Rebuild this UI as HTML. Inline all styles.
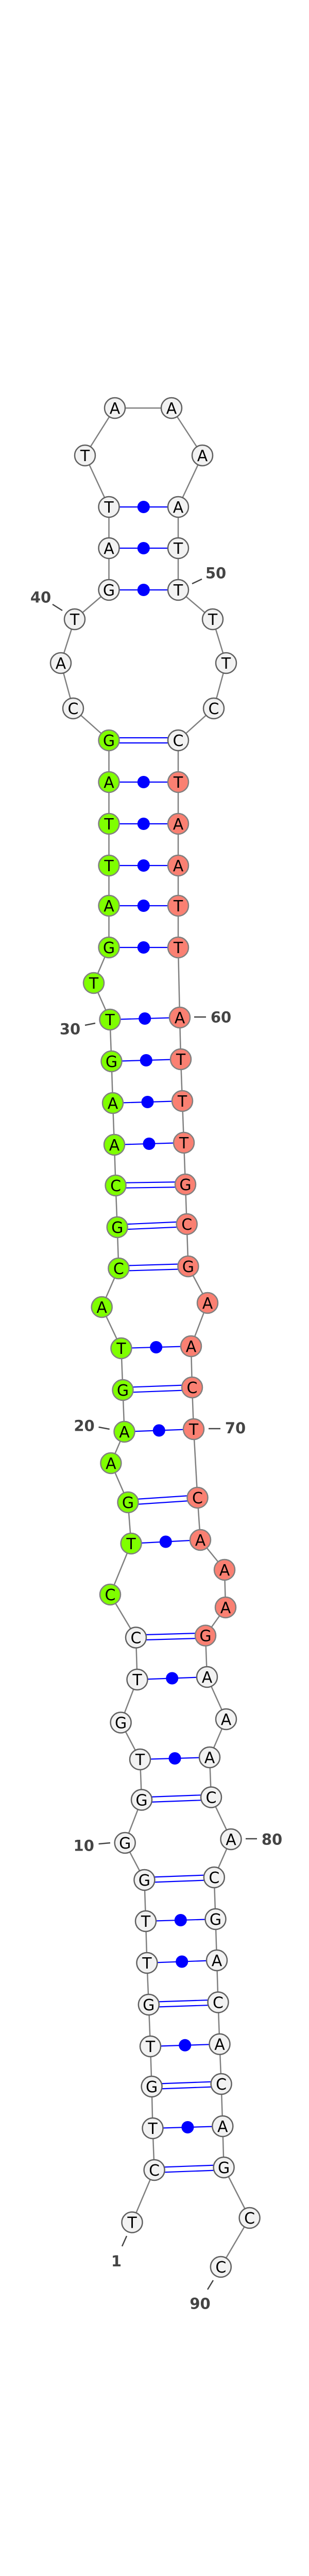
<!DOCTYPE html>
<html><head><meta charset="utf-8"><style>
html,body{margin:0;padding:0;background:#fff;width:600px;height:5209px;overflow:hidden}
svg{display:block}
.n text{font-family:"DejaVu Sans","Liberation Sans",sans-serif;font-size:30px;text-anchor:middle;fill:#000}
.lb{font-family:"DejaVu Sans","Liberation Sans",sans-serif;font-size:29px;font-weight:bold;fill:#444;text-anchor:middle}
</style></head><body>
<svg width="600" height="5209" viewBox="0 0 600 5209" xmlns="http://www.w3.org/2000/svg">
<rect width="600" height="5209" fill="#fff"/>
<!-- backbone -->
<polyline fill="none" stroke="#808080" stroke-width="2.5" points="256.5,4313.5 299.6,4212 296.5,4131 294.6,4050 292,3972 288.8,3891 285.4,3810 283,3729 280.4,3649 242.7,3577 275,3493.5 272,3415 234.6,3343.5 266.5,3260 264,3178.5 214,3095 254.6,2996 248.5,2916 215.4,2840 241.5,2779 238.5,2698 235.4,2617 197.7,2537 230.4,2462 227.7,2382 224.6,2301 222,2222 219,2141 216.5,2060 213.5,1979 182,1908 211.5,1839 211.5,1758 211.5,1680 211.5,1599 211.5,1518 211.5,1437 142,1375 118,1287 145,1202 211.5,1145 211.5,1064 211.5,984 165,884 223,792 333,792 393,884 346,984 346,1064 346,1145 413,1202 439,1287 415,1375 346,1437 346,1518 346,1599 346,1680 346,1758 346,1839 349,1975 351,2056 354,2137 357,2218 360,2299 362.7,2376 365.4,2458 403,2529 371,2613 373,2693 376,2774 383.5,2907 389,2989 436,3047 438,3120 399,3174.6 402,3255 439,3337 407,3411 410,3488.5 448.5,3570 415.8,3644 418.5,3725 421,3805 423.5,3886.5 426.5,3967.7 429.6,4045 432.3,4127 434.6,4207 484.6,4305 428.8,4400"/>
<!-- pairs: single with dot -->
<g stroke="#0000ff" stroke-width="2.2">
<line x1="296.5" y1="4131" x2="432.3" y2="4127"/>
<line x1="292" y1="3972" x2="426.5" y2="3967.7"/>
<line x1="285.4" y1="3810" x2="421" y2="3805"/>
<line x1="283" y1="3729" x2="418.5" y2="3725"/>
<line x1="272" y1="3415" x2="407" y2="3411"/>
<line x1="266.5" y1="3260" x2="402" y2="3255"/>
<line x1="254.6" y1="2996" x2="389" y2="2989"/>
<line x1="241.5" y1="2779" x2="376" y2="2774"/>
<line x1="235.4" y1="2617" x2="371" y2="2613"/>
<line x1="222" y1="2222" x2="357" y2="2218"/>
<line x1="219" y1="2141" x2="354" y2="2137"/>
<line x1="216.5" y1="2060" x2="351" y2="2056"/>
<line x1="213.5" y1="1979" x2="349" y2="1975"/>
<line x1="211.5" y1="1839" x2="346" y2="1839"/>
<line x1="211.5" y1="1758" x2="346" y2="1758"/>
<line x1="211.5" y1="1680" x2="346" y2="1680"/>
<line x1="211.5" y1="1599" x2="346" y2="1599"/>
<line x1="211.5" y1="1518" x2="346" y2="1518"/>
<line x1="211.5" y1="1145" x2="346" y2="1145"/>
<line x1="211.5" y1="1064" x2="346" y2="1064"/>
<line x1="211.5" y1="984" x2="346" y2="984"/>
</g>
<g fill="#0000ff">
<circle cx="364.4" cy="4129" r="12"/>
<circle cx="359.2" cy="3969.8" r="12"/>
<circle cx="353.2" cy="3807.5" r="12"/>
<circle cx="350.8" cy="3727" r="12"/>
<circle cx="339.5" cy="3413" r="12"/>
<circle cx="334.2" cy="3257.5" r="12"/>
<circle cx="321.8" cy="2992.5" r="12"/>
<circle cx="308.8" cy="2776.5" r="12"/>
<circle cx="303.2" cy="2615" r="12"/>
<circle cx="289.5" cy="2220" r="12"/>
<circle cx="286.5" cy="2139" r="12"/>
<circle cx="283.8" cy="2058" r="12"/>
<circle cx="281.2" cy="1977" r="12"/>
<circle cx="278.8" cy="1839" r="12"/>
<circle cx="278.8" cy="1758" r="12"/>
<circle cx="278.8" cy="1680" r="12"/>
<circle cx="278.8" cy="1599" r="12"/>
<circle cx="278.8" cy="1518" r="12"/>
<circle cx="278.8" cy="1145" r="12"/>
<circle cx="278.8" cy="1064" r="12"/>
<circle cx="278.8" cy="984" r="12"/>
</g>
<!-- double lines (GC) -->
<g stroke="#0000ff" stroke-width="2.2">
<line x1="299.6" y1="4207" x2="434.6" y2="4202"/><line x1="299.6" y1="4217" x2="434.6" y2="4212"/>
<line x1="294.6" y1="4045" x2="429.6" y2="4040"/><line x1="294.6" y1="4055" x2="429.6" y2="4050"/>
<line x1="288.8" y1="3886" x2="423.5" y2="3881.5"/><line x1="288.8" y1="3896" x2="423.5" y2="3891.5"/>
<line x1="280.4" y1="3644" x2="415.8" y2="3639"/><line x1="280.4" y1="3654" x2="415.8" y2="3649"/>
<line x1="275" y1="3488.5" x2="410" y2="3483.5"/><line x1="275" y1="3498.5" x2="410" y2="3493.5"/>
<line x1="264" y1="3173.5" x2="399" y2="3169.6"/><line x1="264" y1="3183.5" x2="399" y2="3179.6"/>
<line x1="248.5" y1="2911" x2="383.5" y2="2902"/><line x1="248.5" y1="2921" x2="383.5" y2="2912"/>
<line x1="238.5" y1="2693" x2="373" y2="2688"/><line x1="238.5" y1="2703" x2="373" y2="2698"/>
<line x1="230.4" y1="2457" x2="365.4" y2="2453"/><line x1="230.4" y1="2467" x2="365.4" y2="2463"/>
<line x1="227.7" y1="2377" x2="362.7" y2="2371"/><line x1="227.7" y1="2387" x2="362.7" y2="2381"/>
<line x1="224.6" y1="2296" x2="360" y2="2294"/><line x1="224.6" y1="2306" x2="360" y2="2304"/>
<line x1="211.5" y1="1432" x2="346" y2="1432"/><line x1="211.5" y1="1442" x2="346" y2="1442"/>
</g>
<!-- nodes -->
<g class="n" stroke-width="2.5">
<g fill="#f2f2f2" stroke="#606060">
<circle cx="256.5" cy="4313.5" r="20"/><circle cx="299.6" cy="4212" r="20"/><circle cx="296.5" cy="4131" r="20"/><circle cx="294.6" cy="4050" r="20"/><circle cx="292" cy="3972" r="20"/><circle cx="288.8" cy="3891" r="20"/><circle cx="285.4" cy="3810" r="20"/><circle cx="283" cy="3729" r="20"/><circle cx="280.4" cy="3649" r="20"/><circle cx="242.7" cy="3577" r="20"/><circle cx="275" cy="3493.5" r="20"/><circle cx="272" cy="3415" r="20"/><circle cx="234.6" cy="3343.5" r="20"/><circle cx="266.5" cy="3260" r="20"/><circle cx="264" cy="3178.5" r="20"/>
<circle cx="142" cy="1375" r="20"/><circle cx="118" cy="1287" r="20"/><circle cx="145" cy="1202" r="20"/><circle cx="211.5" cy="1145" r="20"/><circle cx="211.5" cy="1064" r="20"/><circle cx="211.5" cy="984" r="20"/><circle cx="165" cy="884" r="20"/><circle cx="223" cy="792" r="20"/><circle cx="333" cy="792" r="20"/><circle cx="393" cy="884" r="20"/><circle cx="346" cy="984" r="20"/><circle cx="346" cy="1064" r="20"/><circle cx="346" cy="1145" r="20"/><circle cx="413" cy="1202" r="20"/><circle cx="439" cy="1287" r="20"/><circle cx="415" cy="1375" r="20"/><circle cx="346" cy="1437" r="20"/>
<circle cx="402" cy="3255" r="20"/><circle cx="439" cy="3337" r="20"/><circle cx="407" cy="3411" r="20"/><circle cx="410" cy="3488.5" r="20"/><circle cx="448.5" cy="3570" r="20"/><circle cx="415.8" cy="3644" r="20"/><circle cx="418.5" cy="3725" r="20"/><circle cx="421" cy="3805" r="20"/><circle cx="423.5" cy="3886.5" r="20"/><circle cx="426.5" cy="3967.7" r="20"/><circle cx="429.6" cy="4045" r="20"/><circle cx="432.3" cy="4127" r="20"/><circle cx="434.6" cy="4207" r="20"/><circle cx="484.6" cy="4305" r="20"/><circle cx="428.8" cy="4400" r="20"/>
</g>
<g fill="#7fff00" stroke="#808080">
<circle cx="214" cy="3095" r="20"/><circle cx="254.6" cy="2996" r="20"/><circle cx="248.5" cy="2916" r="20"/><circle cx="215.4" cy="2840" r="20"/><circle cx="241.5" cy="2779" r="20"/><circle cx="238.5" cy="2698" r="20"/><circle cx="235.4" cy="2617" r="20"/><circle cx="197.7" cy="2537" r="20"/><circle cx="230.4" cy="2462" r="20"/><circle cx="227.7" cy="2382" r="20"/><circle cx="224.6" cy="2301" r="20"/><circle cx="222" cy="2222" r="20"/><circle cx="219" cy="2141" r="20"/><circle cx="216.5" cy="2060" r="20"/><circle cx="213.5" cy="1979" r="20"/><circle cx="182" cy="1908" r="20"/><circle cx="211.5" cy="1839" r="20"/><circle cx="211.5" cy="1758" r="20"/><circle cx="211.5" cy="1680" r="20"/><circle cx="211.5" cy="1599" r="20"/><circle cx="211.5" cy="1518" r="20"/><circle cx="211.5" cy="1437" r="20"/>
</g>
<g fill="#fa8072" stroke="#808080">
<circle cx="346" cy="1518" r="20"/><circle cx="346" cy="1599" r="20"/><circle cx="346" cy="1680" r="20"/><circle cx="346" cy="1758" r="20"/><circle cx="346" cy="1839" r="20"/><circle cx="349" cy="1975" r="20"/><circle cx="351" cy="2056" r="20"/><circle cx="354" cy="2137" r="20"/><circle cx="357" cy="2218" r="20"/><circle cx="360" cy="2299" r="20"/><circle cx="362.7" cy="2376" r="20"/><circle cx="365.4" cy="2458" r="20"/><circle cx="403" cy="2529" r="20"/><circle cx="371" cy="2613" r="20"/><circle cx="373" cy="2693" r="20"/><circle cx="376" cy="2774" r="20"/><circle cx="383.5" cy="2907" r="20"/><circle cx="389" cy="2989" r="20"/><circle cx="436" cy="3047" r="20"/><circle cx="438" cy="3120" r="20"/><circle cx="399" cy="3174.6" r="20"/>
</g>
<g stroke="none">
<text x="256.5" y="4324.5">T</text><text x="299.6" y="4223">C</text><text x="296.5" y="4142">T</text><text x="294.6" y="4061">G</text><text x="292" y="3983">T</text><text x="288.8" y="3902">G</text><text x="285.4" y="3821">T</text><text x="283" y="3740">T</text><text x="280.4" y="3660">G</text><text x="242.7" y="3588">G</text><text x="275" y="3504.5">G</text><text x="272" y="3426">T</text><text x="234.6" y="3354.5">G</text><text x="266.5" y="3271">T</text><text x="264" y="3189.5">C</text>
<text x="214" y="3106">C</text><text x="254.6" y="3007">T</text><text x="248.5" y="2927">G</text><text x="215.4" y="2851">A</text><text x="241.5" y="2790">A</text><text x="238.5" y="2709">G</text><text x="235.4" y="2628">T</text><text x="197.7" y="2548">A</text><text x="230.4" y="2473">C</text><text x="227.7" y="2393">G</text><text x="224.6" y="2312">C</text><text x="222" y="2233">A</text><text x="219" y="2152">A</text><text x="216.5" y="2071">G</text><text x="213.5" y="1990">T</text><text x="182" y="1919">T</text><text x="211.5" y="1850">G</text><text x="211.5" y="1769">A</text><text x="211.5" y="1691">T</text><text x="211.5" y="1610">T</text><text x="211.5" y="1529">A</text><text x="211.5" y="1448">G</text>
<text x="142" y="1386">C</text><text x="118" y="1298">A</text><text x="145" y="1213">T</text><text x="211.5" y="1156">G</text><text x="211.5" y="1075">A</text><text x="211.5" y="995">T</text><text x="165" y="895">T</text><text x="223" y="803">A</text><text x="333" y="803">A</text><text x="393" y="895">A</text><text x="346" y="995">A</text><text x="346" y="1075">T</text><text x="346" y="1156">T</text><text x="413" y="1213">T</text><text x="439" y="1298">T</text><text x="415" y="1386">C</text><text x="346" y="1448">C</text>
<text x="346" y="1529">T</text><text x="346" y="1610">A</text><text x="346" y="1691">A</text><text x="346" y="1769">T</text><text x="346" y="1850">T</text><text x="349" y="1986">A</text><text x="351" y="2067">T</text><text x="354" y="2148">T</text><text x="357" y="2229">T</text><text x="360" y="2310">G</text><text x="362.7" y="2387">C</text><text x="365.4" y="2469">G</text><text x="403" y="2540">A</text><text x="371" y="2624">A</text><text x="373" y="2704">C</text><text x="376" y="2785">T</text><text x="383.5" y="2918">C</text><text x="389" y="3000">A</text><text x="436" y="3058">A</text><text x="438" y="3131">A</text><text x="399" y="3185.6">G</text>
<text x="402" y="3266">A</text><text x="439" y="3348">A</text><text x="407" y="3422">A</text><text x="410" y="3499.5">C</text><text x="448.5" y="3581">A</text><text x="415.8" y="3655">C</text><text x="418.5" y="3736">G</text><text x="421" y="3816">A</text><text x="423.5" y="3897.5">C</text><text x="426.5" y="3978.7">A</text><text x="429.6" y="4056">C</text><text x="432.3" y="4138">A</text><text x="434.6" y="4218">G</text><text x="484.6" y="4316">C</text><text x="428.8" y="4411">C</text>
</g>
</g>
<!-- labels -->
<g stroke="#444" stroke-width="2.5">
<line x1="102" y1="1173" x2="121" y2="1185"/>
<line x1="373" y1="1133" x2="392" y2="1124"/>
<line x1="165" y1="1990" x2="185" y2="1986"/>
<line x1="377" y1="1974" x2="400" y2="1974"/>
<line x1="191.5" y1="2770" x2="212.7" y2="2774"/>
<line x1="405" y1="2773" x2="428" y2="2773"/>
<line x1="191.5" y1="3579" x2="214" y2="3577"/>
<line x1="477" y1="3569" x2="499" y2="3569"/>
<line x1="246" y1="4340" x2="237" y2="4360"/>
<line x1="414" y1="4426" x2="403" y2="4444"/>
</g>
<text class="lb" x="79" y="1169.5">40</text>
<text class="lb" x="419" y="1122.5">50</text>
<text class="lb" x="136" y="2007.5">30</text>
<text class="lb" x="429" y="1984.5">60</text>
<text class="lb" x="163.5" y="2777.5">20</text>
<text class="lb" x="457" y="2782">70</text>
<text class="lb" x="162.7" y="3592.5">10</text>
<text class="lb" x="528" y="3580.5">80</text>
<text class="lb" x="226" y="4399">1</text>
<text class="lb" x="388.5" y="4481.5">90</text>
<text x="300" y="5137" font-family="DejaVu Sans,Liberation Sans,sans-serif" font-size="10.5" font-weight="bold" text-anchor="middle" fill="#111">dvi_111_annot [-27.4]</text>
</svg>
</body></html>
